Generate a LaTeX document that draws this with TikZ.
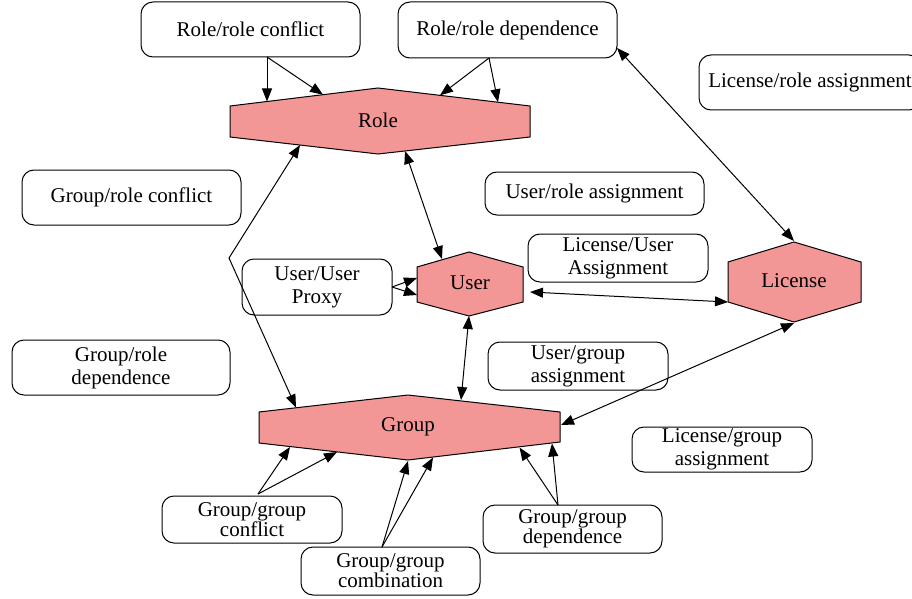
\documentclass[tikz,border=0pt]{standalone}
\usepackage{fontspec}
\setmainfont{Liberation Serif}
\usetikzlibrary{arrows.meta}
\definecolor{hexfill}{RGB}{243,150,150}
\tikzset{
  box/.style={draw, rounded corners=12pt, line width=1pt, align=center, inner sep=0pt,
    font=\fontsize{21}{23}\selectfont},
  tbox/.style={box, font=\fontsize{21}{20}\selectfont},
  hex/.style={draw, fill=hexfill, line width=1pt},
  hexlabel/.style={inner sep=0pt, font=\fontsize{21}{23}\selectfont},
  conn/.style={line width=1pt, -{Triangle[length=13pt,width=10pt]}},
  biconn/.style={line width=1pt, {Triangle[length=13pt,width=10pt]}-{Triangle[length=13pt,width=10pt]}}
}
\begin{document}
\begin{tikzpicture}[x=1pt,y=-1pt]
\useasboundingbox (0,0) rectangle (912,599);
% hexagons
\draw[hex] (230,106) -- (378,88) -- (530,106) -- (530,137) -- (378,154) -- (230,137) -- cycle;
\node[hexlabel] (role) at (378,120) {Role};
\draw[hex] (417,267) -- (469,252) -- (523,267) -- (523,302) -- (469,316) -- (417,302) -- cycle;
\node[hexlabel] (user) at (470,283) {User};
\draw[hex] (728,262) -- (794,242) -- (861,262) -- (861,302) -- (794,322) -- (728,302) -- cycle;
\node[hexlabel] (license) at (794,281) {License};
\draw[hex] (259,412) -- (408,395) -- (560,412) -- (560,442) -- (408,460) -- (259,443) -- cycle;
\node[hexlabel] (group) at (408,427) {Group};
% boxes
\node[box, minimum width=219pt, minimum height=55pt] (rrc) at (250.5,29.5) {Role/role conflict};
\node[box, minimum width=219pt, minimum height=56pt] (rrd) at (507.5,30) {Role/role dependence};
\node[box, minimum width=222pt, minimum height=55pt] (lra) at (810,82.5) {License/role assignment};
\node[box, minimum width=219pt, minimum height=55pt] (grc) at (131.5,197.5) {Group/role conflict};
\node[box, minimum width=219pt, minimum height=43pt] (ura) at (594.5,193.5) {User/role assignment};
\node[box, minimum width=180pt, minimum height=48pt] (lua) at (618,258) {License/User\\Assignment};
\node[box, minimum width=150pt, minimum height=56pt] (uup) at (317,287) {User/User\\Proxy};
\node[box, minimum width=218pt, minimum height=55pt] (grd) at (121,367.5) {Group/role\\dependence};
\node[box, minimum width=180pt, minimum height=48pt] (uga) at (578,366) {User/group\\assignment};
\node[box, minimum width=180pt, minimum height=45pt] (lga) at (722,449.5) {License/group\\assignment};
\node[tbox, minimum width=180pt, minimum height=47pt] (ggc) at (252,519.5) {Group/group\\conflict};
\node[tbox, minimum width=179pt, minimum height=48pt] (ggco) at (390.5,571) {Group/group\\combination};
\node[tbox, minimum width=179pt, minimum height=48pt] (ggd) at (572.5,529) {Group/group\\dependence};
% connection points
\coordinate (rrcS) at (267,57);
\coordinate (roleT1) at (267,101.5);
\coordinate (roleT2) at (323,94.7);
\coordinate (rrdS) at (489,58);
\coordinate (roleT3) at (440,95.3);
\coordinate (roleT4) at (498,102.2);
\coordinate (rrdC) at (617,48);
\coordinate (licT) at (794,241);
\coordinate (roleB1) at (300,145);
\coordinate (bend) at (229,258);
\coordinate (grpT1) at (296,407.5);
\coordinate (roleB2) at (405,151);
\coordinate (userT) at (442,259);
\coordinate (uupE) at (392,287);
\coordinate (userL1) at (417,278);
\coordinate (userL2) at (417,295);
\coordinate (userR) at (530,292);
\coordinate (licL) at (728,302);
\coordinate (userB) at (469,316);
\coordinate (grpT2) at (461,400);
\coordinate (licB) at (794,323);
\coordinate (grpR) at (561,425);
\coordinate (ggcS) at (258,494);
\coordinate (grpB1) at (290,447);
\coordinate (grpB2) at (337,452);
\coordinate (ggcoS) at (382,547);
\coordinate (grpB3) at (408,461);
\coordinate (grpB4) at (433,457.5);
\coordinate (ggdS) at (558,505);
\coordinate (grpB5) at (519.5,447.5);
\coordinate (grpB6) at (552,443.5);
% connectors
\draw[conn] (rrcS) -- (roleT1);
\draw[conn] (rrcS) -- (roleT2);
\draw[conn] (rrdS) -- (roleT3);
\draw[conn] (rrdS) -- (roleT4);
\draw[biconn] (rrdC) -- (licT);
\draw[biconn] (roleB1) -- (bend) -- (grpT1);
\draw[biconn] (roleB2) -- (userT);
\draw[conn] (uupE) -- (userL1);
\draw[conn] (uupE) -- (userL2);
\draw[biconn] (userR) -- (licL);
\draw[biconn] (userB) -- (grpT2);
\draw[biconn] (licB) -- (grpR);
\draw[conn] (ggcS) -- (grpB1);
\draw[conn] (ggcS) -- (grpB2);
\draw[conn] (ggcoS) -- (grpB3);
\draw[conn] (ggcoS) -- (grpB4);
\draw[conn] (ggdS) -- (grpB5);
\draw[conn] (ggdS) -- (grpB6);
\end{tikzpicture}
\end{document}
